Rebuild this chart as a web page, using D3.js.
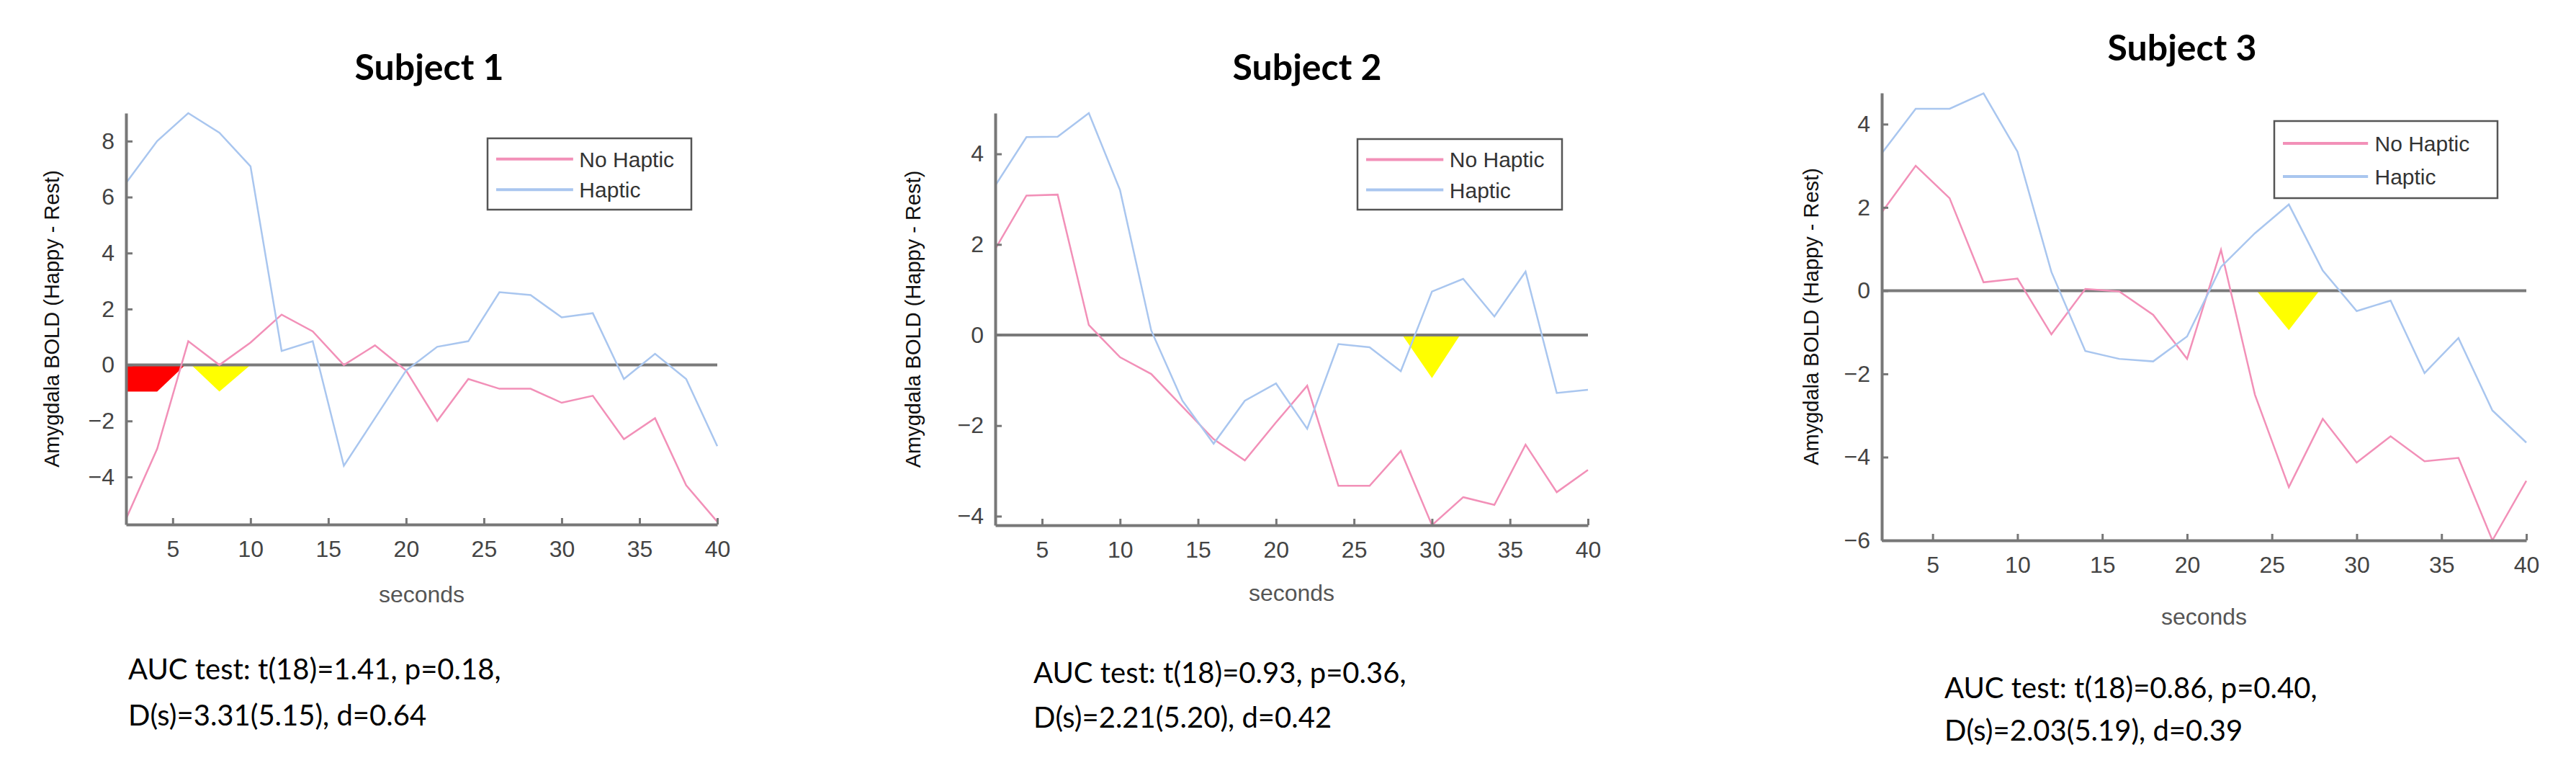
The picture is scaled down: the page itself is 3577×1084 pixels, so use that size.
<!DOCTYPE html>
<html lang="en">
<head>
  <meta charset="UTF-8">
  <title>Amygdala BOLD by subject</title>
  <script src="https://d3js.org/d3.v7.min.js"></script>
  <style>
    body { margin: 0; background: #fff; }
    .tick text { font-family: "Liberation Sans Narrow", "Liberation Sans", Arial, sans-serif; fill: #444; }
    .title { font-family: Lato, "Open Sans", sans-serif; font-weight: bold; }
    .auc { font-family: Lato, "Open Sans", sans-serif; }
  </style>
</head>
<body>
  <svg id="chart" width="3577" height="1084"></svg>
  <script>
    // time axis (seconds)
    const seconds = [2, 4, 6, 8, 10, 12, 14, 16, 18, 20, 22, 24, 26, 28, 30, 32, 34, 36, 38, 40];
    const xTicks = [5, 10, 15, 20, 25, 30, 35, 40];
    const seriesNames = ["No Haptic", "Haptic"];

    // Subject 1
    const s1NoHaptic = [-5.5, -3.0, 0.85, 0, 0.8, 1.8, 1.2, 0, 0.7, -0.2, -2.0, -0.5, -0.85, -0.85, -1.35, -1.1, -2.65, -1.9, -4.3, -5.6];
    const s1Haptic = [6.5, 8.0, 9.0, 8.3, 7.1, 0.5, 0.85, -3.6, -1.9, -0.2, 0.65, 0.85, 2.6, 2.5, 1.7, 1.85, -0.5, 0.4, -0.5, -2.9];
    // Subject 2
    const s2NoHaptic = [1.9, 3.08, 3.1, 0.22, -0.49, -0.86, -1.58, -2.3, -2.77, -1.93, -1.12, -3.33, -3.33, -2.56, -4.2, -3.58, -3.75, -2.42, -3.47, -2.98];
    const s2Haptic = [3.3, 4.37, 4.38, 4.9, 3.2, 0.1, -1.45, -2.4, -1.45, -1.07, -2.07, -0.2, -0.27, -0.8, 0.96, 1.24, 0.41, 1.4, -1.28, -1.21];
    // Subject 3
    const s3NoHaptic = [1.88, 3.0, 2.22, 0.2, 0.29, -1.05, 0.04, -0.02, -0.58, -1.64, 0.98, -2.5, -4.72, -3.08, -4.13, -3.5, -4.1, -4.02, -6.0, -4.57];
    const s3Haptic = [3.3, 4.37, 4.37, 4.74, 3.34, 0.45, -1.45, -1.64, -1.7, -1.1, 0.57, 1.38, 2.07, 0.48, -0.49, -0.24, -1.98, -1.14, -2.88, -3.65];

    // significance markers, [seconds, value]
    const s1Red = [[2, 0], [2, -0.95], [4, -0.95], [5.8, 0]];
    const s1Yellow = [[6.2, 0], [10, 0], [8, -0.95]];
    const s2Yellow = [[28.1, 0], [31.8, 0], [30, -0.95]];
    const s3Yellow = [[24.1, 0], [27.8, 0], [26, -0.95]];

    const titles = ["Subject 1", "Subject 2", "Subject 3"];
    const aucLines = [
      ["AUC test: t(18)=1.41, p=0.18,", "D(s)=3.31(5.15), d=0.64"],
      ["AUC test: t(18)=0.93, p=0.36,", "D(s)=2.21(5.20), d=0.42"],
      ["AUC test: t(18)=0.86, p=0.40,", "D(s)=2.03(5.19), d=0.39"]
    ];

    const colors = { "No Haptic": "#f290b8", "Haptic": "#a9c6ef" };

    const panels = [
      { left: 175, right: 996, top: 157, bottom: 728, ydom: [-5.7, 9], yTicks: [-4, -2, 0, 2, 4, 6, 8],
        noH: s1NoHaptic, hap: s1Haptic, marks: [[s1Red, "#ff0000"], [s1Yellow, "#ffff00"]],
        titleX: 596, titleY: 111, ylabX: 82, tickY: 782, secY: 836, aucX: 178, aucY: [943, 1007],
        legend: [677, 192, 283, 99] },
      { left: 1382, right: 2205, top: 157, bottom: 729, ydom: [-4.2, 4.9], yTicks: [-4, -2, 0, 2, 4],
        noH: s2NoHaptic, hap: s2Haptic, marks: [[s2Yellow, "#ffff00"]],
        titleX: 1815, titleY: 111, ylabX: 1278, tickY: 782, secY: 834, aucX: 1435, aucY: [948, 1010],
        legend: [1885, 193, 284, 98] },
      { left: 2613, right: 3508, top: 129, bottom: 750, ydom: [-6, 4.75], yTicks: [-6, -4, -2, 0, 2, 4],
        noH: s3NoHaptic, hap: s3Haptic, marks: [[s3Yellow, "#ffff00"]],
        titleX: 3030, titleY: 84, ylabX: 2525, tickY: 807, secY: 867, aucX: 2700, aucY: [969, 1028],
        legend: [3158, 168, 310, 107] }
    ];

    const svg = d3.select("#chart");

    panels.forEach((p, i) => {
      const x = d3.scaleLinear().domain([2, 40]).range([p.left, p.right]);
      const y = d3.scaleLinear().domain(p.ydom).range([p.bottom, p.top]);
      const g = svg.append("g");

      // title
      g.append("text").attr("class", "title")
        .attr("x", p.titleX).attr("y", p.titleY)
        .attr("text-anchor", "middle").attr("font-size", 50)
        .text(titles[i]);

      // significance patches
      p.marks.forEach(([pts, col]) => {
        g.append("polygon")
          .attr("points", pts.map(d => [x(d[0]), y(d[1])].join(",")).join(" "))
          .attr("fill", col);
      });

      // zero line
      g.append("line")
        .attr("x1", x(2)).attr("x2", x(40))
        .attr("y1", y(0)).attr("y2", y(0))
        .attr("stroke", "#7a7a7a").attr("stroke-width", 4);

      // series
      const line = d3.line().x((d, j) => x(seconds[j])).y(d => y(d));
      [[p.noH, "No Haptic"], [p.hap, "Haptic"]].forEach(([vals, name]) => {
        g.append("path").datum(vals)
          .attr("d", line)
          .attr("fill", "none")
          .attr("stroke", colors[name])
          .attr("stroke-width", 2.5);
      });

      // axes
      const xAxis = g.append("g")
        .attr("transform", `translate(0,${p.bottom})`)
        .call(d3.axisBottom(x).tickValues(xTicks).tickSizeInner(-9).tickSizeOuter(0).tickPadding(22));
      const yAxis = g.append("g")
        .attr("transform", `translate(${p.left},0)`)
        .call(d3.axisLeft(y).tickValues(p.yTicks).tickSizeInner(-9).tickSizeOuter(0).tickPadding(16));
      [xAxis, yAxis].forEach(a => {
        a.select(".domain").attr("stroke", "#777").attr("stroke-width", 4);
        a.selectAll(".tick line").attr("stroke", "#777").attr("stroke-width", 3);
        a.selectAll(".tick text").attr("font-size", 32);
      });

      // axis labels
      g.append("text")
        .attr("x", (p.left + p.right) / 2).attr("y", p.secY)
        .attr("text-anchor", "middle")
        .attr("font-family", "'Liberation Sans Narrow', 'Liberation Sans', Arial, sans-serif")
        .attr("font-size", 32).attr("fill", "#555")
        .text("seconds");
      g.append("text")
        .attr("transform", `translate(${p.ylabX},${(p.top + p.bottom) / 2}) rotate(-90)`)
        .attr("text-anchor", "middle")
        .attr("font-family", "'Liberation Sans', Arial, sans-serif")
        .attr("font-size", 29).attr("fill", "#111")
        .text("Amygdala BOLD (Happy - Rest)");

      // legend
      const [lx, ly, lw, lh] = p.legend;
      const lg = g.append("g");
      lg.append("rect").attr("x", lx).attr("y", ly).attr("width", lw).attr("height", lh)
        .attr("fill", "#fff").attr("stroke", "#555").attr("stroke-width", 2.5);
      seriesNames.forEach((name, k) => {
        const yy = ly + lh * (0.29 + 0.43 * k);
        lg.append("line")
          .attr("x1", lx + 12).attr("x2", lx + lw * 0.42)
          .attr("y1", yy).attr("y2", yy)
          .attr("stroke", colors[name]).attr("stroke-width", 4);
        lg.append("text")
          .attr("x", lx + lw * 0.45).attr("y", yy + 11)
          .attr("font-family", "'Liberation Sans Narrow', 'Liberation Sans', Arial, sans-serif")
          .attr("font-size", 30).attr("fill", "#333")
          .text(name);
      });

      // AUC text
      aucLines[i].forEach((t, k) => {
        g.append("text").attr("class", "auc")
          .attr("x", p.aucX).attr("y", p.aucY[k])
          .attr("font-size", 40).attr("fill", "#000")
          .text(t);
      });
    });
  </script>
</body>
</html>
